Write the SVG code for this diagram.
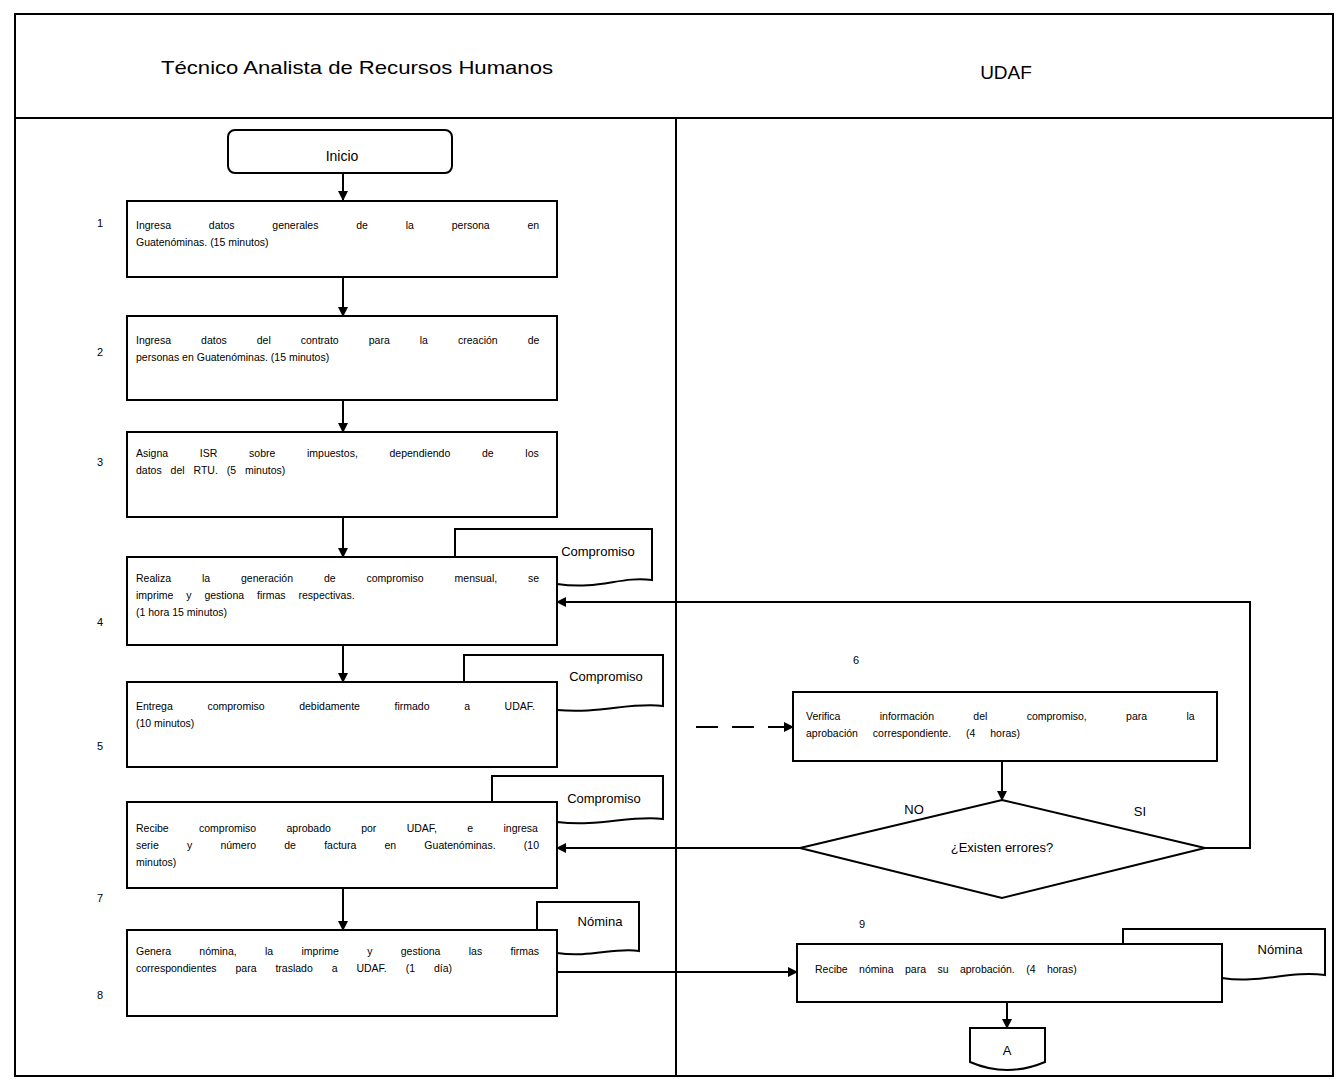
<svg xmlns="http://www.w3.org/2000/svg" width="1337" height="1082" viewBox="0 0 1337 1082">
  <style>
    .frame { fill: none; stroke: #000; stroke-width: 2; }
    .box { fill: #fff; stroke: #000; stroke-width: 2; }
    .doc { fill: #fff; stroke: #000; stroke-width: 2; }
    .line { fill: none; stroke: #000; stroke-width: 2; }
    .dash { fill: none; stroke: #000; stroke-width: 2; stroke-dasharray: 22 14; }
    .t { font-family: "Liberation Sans", Arial, sans-serif; font-size: 10.5px; fill: #000; }
    .lbl { font-family: "Liberation Sans", Arial, sans-serif; font-size: 13px; fill: #000; }
    .hd { font-family: "Liberation Sans", Arial, sans-serif; font-size: 19px; fill: #000; }
    .num { font-family: "Liberation Sans", Arial, sans-serif; font-size: 11px; fill: #000; }
  </style>
  <defs>
    <marker id="arrow" markerWidth="10" markerHeight="10" refX="9" refY="5" orient="auto" markerUnits="userSpaceOnUse">
      <path d="M0,0 L10,5 L0,10 Z" fill="#000"/>
    </marker>
  </defs>

  <rect width="1337" height="1082" fill="#fff"/>

  <!-- swimlane frame -->
  <g id="lanes">
    <rect class="frame" x="15" y="14" width="1318" height="1062"/>
    <line class="line" x1="15" y1="118" x2="1333" y2="118"/>
    <line class="line" x1="676" y1="118" x2="676" y2="1076"/>
    <text class="hd" x="357" y="74" text-anchor="middle" textLength="392" lengthAdjust="spacingAndGlyphs">Técnico Analista de Recursos Humanos</text>
    <text class="hd" x="1006" y="79" text-anchor="middle">UDAF</text>
  </g>

  <!-- documents drawn behind their activities -->
  <g id="doc-compromiso-4">
    <path class="doc" d="M455,585 V529 H652 V580 C620,576 600,590 557,584 L455,585 Z"/>
    <text class="lbl" x="598" y="556" text-anchor="middle">Compromiso</text>
  </g>
  <g id="doc-compromiso-5">
    <path class="doc" d="M464,710 V655 H663 V706 C630,702 600,714 557,710 L464,710 Z"/>
    <text class="lbl" x="606" y="681" text-anchor="middle">Compromiso</text>
  </g>
  <g id="doc-compromiso-7">
    <path class="doc" d="M492,825 V776 H663 V819 C630,815 600,827 557,822 L492,825 Z"/>
    <text class="lbl" x="604" y="803" text-anchor="middle">Compromiso</text>
  </g>
  <g id="doc-nomina-8">
    <path class="doc" d="M537,955 V902 H639 V951 C615,947 590,958 557,953 L537,955 Z"/>
    <text class="lbl" x="600" y="926" text-anchor="middle">Nómina</text>
  </g>
  <g id="doc-nomina-9">
    <path class="doc" d="M1123,980 V929 H1325 V975 C1290,970 1260,984 1222,978 L1123,980 Z"/>
    <text class="lbl" x="1280" y="954" text-anchor="middle">Nómina</text>
  </g>

  <!-- connectors -->
  <g id="connectors">
    <line class="line" x1="343" y1="173" x2="343" y2="200" marker-end="url(#arrow)"/>
    <line class="line" x1="343" y1="277" x2="343" y2="316" marker-end="url(#arrow)"/>
    <line class="line" x1="343" y1="400" x2="343" y2="432" marker-end="url(#arrow)"/>
    <line class="line" x1="343" y1="517" x2="343" y2="557" marker-end="url(#arrow)"/>
    <line class="line" x1="343" y1="645" x2="343" y2="682" marker-end="url(#arrow)"/>
    <line class="dash" x1="696" y1="727" x2="793" y2="727" marker-end="url(#arrow)"/>
    <line class="line" x1="1002" y1="761" x2="1002" y2="800" marker-end="url(#arrow)"/>
    <polyline class="line" points="1205,848 1250,848 1250,602 557,602" marker-end="url(#arrow)"/>
    <line class="line" x1="800" y1="848" x2="557" y2="848" marker-end="url(#arrow)"/>
    <line class="line" x1="343" y1="888" x2="343" y2="930" marker-end="url(#arrow)"/>
    <line class="line" x1="557" y1="972" x2="797" y2="972" marker-end="url(#arrow)"/>
    <line class="line" x1="1007" y1="1002" x2="1007" y2="1028" marker-end="url(#arrow)"/>
  </g>

  <!-- start -->
  <g id="inicio">
    <rect class="box" x="228" y="130" width="224" height="43" rx="7"/>
    <text class="lbl" x="342" y="161" text-anchor="middle" style="font-size:14px">Inicio</text>
  </g>

  <g id="step1">
    <rect class="box" x="127" y="201" width="430" height="76"/>
    <text class="num" x="97" y="227">1</text>
    <text class="t" x="136" y="229" word-spacing="34.9">Ingresa datos generales de la persona en</text>
    <text class="t" x="136" y="246">Guatenóminas. (15 minutos)</text>
  </g>

  <g id="step2">
    <rect class="box" x="127" y="316" width="430" height="84"/>
    <text class="num" x="97" y="356">2</text>
    <text class="t" x="136" y="344" word-spacing="27.1">Ingresa datos del contrato para la creación de</text>
    <text class="t" x="136" y="361">personas en Guatenóminas. (15 minutos)</text>
  </g>

  <g id="step3">
    <rect class="box" x="127" y="432" width="430" height="85"/>
    <text class="num" x="97" y="466">3</text>
    <text class="t" x="136" y="457" word-spacing="28.8">Asigna ISR sobre impuestos, dependiendo de los</text>
    <text class="t" x="136" y="474" word-spacing="6">datos del RTU. (5 minutos)</text>
  </g>

  <g id="step4">
    <rect class="box" x="127" y="557" width="430" height="88"/>
    <text class="num" x="97" y="626">4</text>
    <text class="t" x="136" y="582" word-spacing="28">Realiza la generación de compromiso mensual, se</text>
    <text class="t" x="136" y="599" word-spacing="10">imprime y gestiona firmas respectivas.</text>
    <text class="t" x="136" y="616">(1 hora 15 minutos)</text>
  </g>

  <g id="step5">
    <rect class="box" x="127" y="682" width="430" height="85"/>
    <text class="num" x="97" y="750">5</text>
    <text class="t" x="136" y="710" word-spacing="31.7">Entrega compromiso debidamente firmado a UDAF.</text>
    <text class="t" x="136" y="727">(10 minutos)</text>
  </g>

  <g id="step7">
    <rect class="box" x="127" y="802" width="430" height="86"/>
    <text class="num" x="97" y="902">7</text>
    <text class="t" x="136" y="832" word-spacing="27.4">Recibe compromiso aprobado por UDAF, e ingresa</text>
    <text class="t" x="136" y="849" word-spacing="25.3">serie y número de factura en Guatenóminas. (10</text>
    <text class="t" x="136" y="866">minutos)</text>
  </g>

  <g id="step8">
    <rect class="box" x="127" y="930" width="430" height="86"/>
    <text class="num" x="97" y="999">8</text>
    <text class="t" x="136" y="955" word-spacing="25.4">Genera nómina, la imprime y gestiona las firmas</text>
    <text class="t" x="136" y="972" word-spacing="16">correspondientes para traslado a UDAF. (1 día)</text>
  </g>

  <g id="step6">
    <rect class="box" x="793" y="692" width="424" height="69"/>
    <text class="num" x="853" y="664">6</text>
    <text class="t" x="806" y="720" word-spacing="36.4">Verifica información del compromiso, para la</text>
    <text class="t" x="806" y="737" word-spacing="12">aprobación correspondiente. (4 horas)</text>
  </g>

  <g id="decision">
    <polygon class="box" points="1002,800 1205,848 1002,898 800,848"/>
    <text class="lbl" x="1002" y="852" text-anchor="middle">¿Existen errores?</text>
    <text class="lbl" x="914" y="814" text-anchor="middle">NO</text>
    <text class="lbl" x="1140" y="816" text-anchor="middle">SI</text>
  </g>

  <g id="step9">
    <rect class="box" x="797" y="944" width="425" height="58"/>
    <text class="num" x="859" y="928">9</text>
    <text class="t" x="815" y="973" word-spacing="8.5">Recibe nómina para su aprobación. (4 horas)</text>
  </g>

  <g id="connector-a">
    <path class="box" d="M970,1028 H1045 V1062 Q1007,1078 970,1062 Z"/>
    <text class="lbl" x="1007" y="1055" text-anchor="middle">A</text>
  </g>
</svg>
